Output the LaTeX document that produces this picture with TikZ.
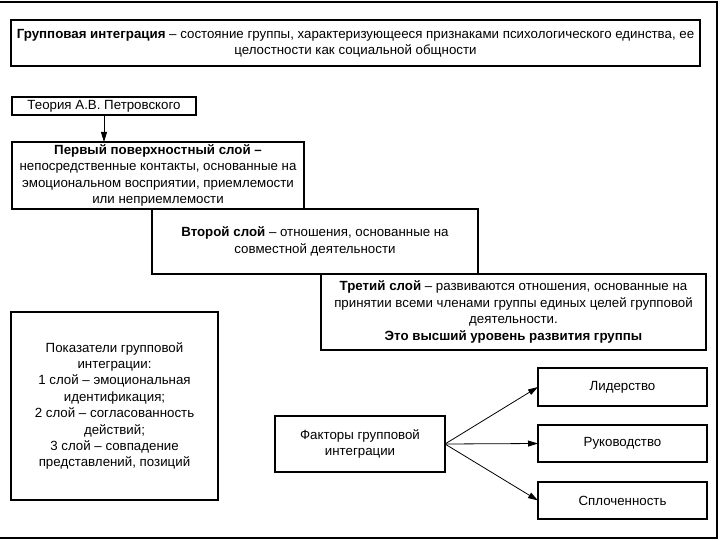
\documentclass[tikz,border=0pt]{standalone}
\usepackage{fontspec}
\setmainfont{Liberation Sans}
\usetikzlibrary{arrows.meta}
\begin{document}
\begin{tikzpicture}[x=1pt,y=-1pt,
  box/.style={draw=black, line width=2pt, fill=white, inner sep=0pt, outer sep=0pt, align=center,
    font=\fontsize{13.3}{16.4}\selectfont},
  conn/.style={draw=black, line width=0.8pt, -{Triangle[length=10pt,width=6pt]}}]
\useasboundingbox (0,0) rectangle (720,540);
\fill[white] (0,0) rectangle (720,540);
\draw[line width=2pt] (-10,2) rectangle (717,538);

\node[box, minimum width=689pt, minimum height=46pt] (title) at (355.5,43)
  {\textbf{Групповая интеграция} – состояние группы, характеризующееся признаками психологического единства, ее\\целостности как социальной общности};

\node[box, minimum width=184pt, minimum height=18pt] (theory) at (104,106) {Теория А.В. Петровского};

\node[box, minimum width=292pt, minimum height=67pt] (l1) at (158,175.5)
  {\textbf{Первый поверхностный слой –}\\непосредственные контакты, основанные на\\эмоциональном восприятии, приемлемости\\или неприемлемости};

\node[box, minimum width=326pt, minimum height=65pt] (l2) at (315,241.5)
  {\textbf{Второй слой} – отношения, основанные на\\совместной деятельности};

\node[box, minimum width=385pt, minimum height=76pt] (l3) at (513.5,312)
  {\textbf{Третий слой} – развиваются отношения, основанные на\\принятии всеми членами группы единых целей групповой\\деятельности.\\\textbf{Это высший уровень развития группы}};

\node[box, minimum width=207pt, minimum height=188pt] (ind) at (114.5,406)
  {Показатели групповой\\интеграции:\\1 слой – эмоциональная\\идентификация;\\2 слой – согласованность\\действий;\\3 слой – совпадение\\представлений, позиций};

\node[box, minimum width=170pt, minimum height=56pt] (fac) at (360,444)
  {Факторы групповой\\интеграции};

\node[box, minimum width=169pt, minimum height=38pt] (lead) at (622.5,387) {Лидерство};
\node[box, minimum width=169pt, minimum height=37pt] (man) at (622.5,443.5) {Руководство};
\node[box, minimum width=169pt, minimum height=37pt] (coh) at (622.5,500.5) {Сплоченность};

\draw[conn] (theory) -- (theory |- l1.north);
\draw[conn] (fac.east) -- (lead.west);
\draw[conn] (fac.east) -- (man.west);
\draw[conn] (fac.east) -- (coh.west);
\end{tikzpicture}
\end{document}
